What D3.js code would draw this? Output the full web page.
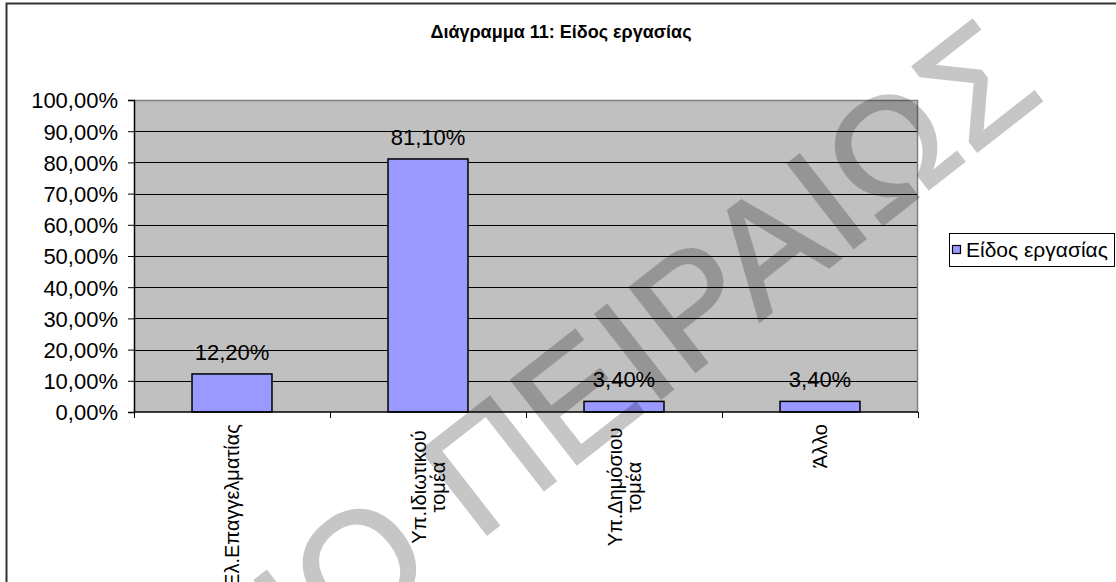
<!DOCTYPE html>
<html>
<head>
<meta charset="utf-8">
<script src="https://cdn.jsdelivr.net/npm/d3@7/dist/d3.min.js"></script>
<style>
  html, body { margin: 0; padding: 0; background: #fff; }
  svg { display: block; font-family: "Liberation Sans", Arial, Helvetica, sans-serif; }
</style>
</head>
<body>
<svg id="chart" width="1116" height="582"></svg>
<script>
// Chart data
const title = "Διάγραμμα 11: Είδος εργασίας";
const seriesName = "Είδος εργασίας";
const categories = ["Ελ.Επαγγελματίας", "Υπ.Ιδιωτικού\nτομέα", "Υπ.Δημόσιου\nτομέα", "Άλλο"];
const values = [0.122, 0.811, 0.034, 0.034];
const yTicks = [0, 0.1, 0.2, 0.3, 0.4, 0.5, 0.6, 0.7, 0.8, 0.9, 1.0];
const watermarkText = "ΠΑΝΕΠΙΣΤΗΜΙΟ ΠΕΙΡΑΙΩΣ";

const svg = d3.select("#chart");
const W = 1116, H = 582;
const plot = { left: 134, right: 918, top: 100, bottom: 412 };

const fmtPct = v => d3.format(".2f")(v * 100).replace(".", ",") + "%";

svg.append("rect").attr("width", W).attr("height", H).attr("fill", "#fff");

// outer chart frame (extends past the right and bottom edges)
svg.append("rect")
  .attr("x", 6.5).attr("y", 3.5).attr("width", 1300).attr("height", 800)
  .attr("fill", "none").attr("stroke", "#333").attr("stroke-width", 2);

const x = d3.scaleBand()
  .domain(categories)
  .range([plot.left, plot.right])
  .paddingInner(0.592)
  .paddingOuter(0.296);

const y = d3.scaleLinear().domain([0, 1]).range([plot.bottom, plot.top]);

// plot area background
svg.append("rect")
  .attr("x", plot.left).attr("y", plot.top)
  .attr("width", plot.right - plot.left).attr("height", plot.bottom - plot.top)
  .attr("fill", "#c0c0c0");

// horizontal gridlines
svg.append("g")
  .selectAll("line")
  .data(yTicks.filter(t => t > 0 && t < 1))
  .join("line")
  .attr("x1", plot.left).attr("x2", plot.right)
  .attr("y1", d => Math.round(y(d)) + 0.5).attr("y2", d => Math.round(y(d)) + 0.5)
  .attr("stroke", "#000").attr("stroke-width", 1);

// plot area border (top and right)
svg.append("path")
  .attr("d", `M${plot.left},${plot.top + 0.5}H${plot.right - 0.5}V${plot.bottom}`)
  .attr("fill", "none").attr("stroke", "#808080").attr("stroke-width", 1.5);

// bars
svg.append("g")
  .selectAll("rect")
  .data(values)
  .join("rect")
  .attr("x", (d, i) => x(categories[i]))
  .attr("y", d => y(d))
  .attr("width", x.bandwidth())
  .attr("height", d => y(0) - y(d))
  .attr("fill", "#9999ff")
  .attr("stroke", "#000").attr("stroke-width", 1.5);

// value labels
svg.append("g")
  .selectAll("text")
  .data(values)
  .join("text")
  .attr("x", (d, i) => x(categories[i]) + x.bandwidth() / 2)
  .attr("y", d => y(d) - 14)
  .attr("text-anchor", "middle")
  .attr("font-size", 22)
  .attr("fill", "#000")
  .text(d => fmtPct(d));

// y axis
const yAxis = d3.axisLeft(y)
  .tickValues(yTicks)
  .tickSize(6)
  .tickPadding(10)
  .tickFormat(fmtPct);
const gy = svg.append("g").attr("transform", `translate(${plot.left},0)`).call(yAxis);
gy.select(".domain").attr("stroke", "#000").attr("stroke-width", 1.5);
gy.selectAll(".tick line").attr("stroke", "#000");
gy.selectAll(".tick text").attr("font-size", 22).attr("fill", "#000")
  .attr("font-family", "Liberation Sans, Arial, sans-serif").attr("dy", "0.36em");

// x axis line with tick marks between categories
const step = x.step();
const boundaries = d3.range(categories.length + 1).map(i => plot.left + i * step);
svg.append("line")
  .attr("x1", plot.left).attr("x2", plot.right)
  .attr("y1", plot.bottom).attr("y2", plot.bottom)
  .attr("stroke", "#000").attr("stroke-width", 1.5);
svg.append("g")
  .selectAll("line")
  .data(boundaries)
  .join("line")
  .attr("x1", d => Math.round(d) + 0.5).attr("x2", d => Math.round(d) + 0.5)
  .attr("y1", plot.bottom).attr("y2", plot.bottom + 6)
  .attr("stroke", "#000");

// rotated category labels
const catG = svg.append("g");
categories.forEach(c => {
  const lines = c.split("\n");
  const cx = x(c) + x.bandwidth() / 2;
  const lh = 19;
  lines.forEach((ln, i) => {
    const bx = cx + 7 + (i - (lines.length - 1) / 2) * lh;
    const single = lines.length === 1;
    const by = single ? 424 : 487;
    catG.append("text")
      .attr("transform", `translate(${bx},${by}) rotate(-90)`)
      .attr("text-anchor", single ? "end" : "middle")
      .attr("font-size", 20)
      .attr("fill", "#000")
      .text(ln);
  });
});

// title
svg.append("text")
  .attr("x", 561).attr("y", 38)
  .attr("text-anchor", "middle")
  .attr("font-size", 18).attr("font-weight", "bold")
  .attr("fill", "#000")
  .text(title);

// legend
const lg = svg.append("g");
lg.append("rect").attr("x", 949.5).attr("y", 233.5).attr("width", 165).attr("height", 33)
  .attr("fill", "#fff").attr("stroke", "#000");
lg.append("rect").attr("x", 952.5).attr("y", 245.5).attr("width", 8).attr("height", 8)
  .attr("fill", "#9999ff").attr("stroke", "#000").attr("stroke-width", 1.2);
lg.append("text").attr("x", 966).attr("y", 257)
  .attr("font-size", 21).attr("fill", "#000").text(seriesName);

// watermark across the page
svg.append("g")
  .attr("opacity", 0.22)
  .append("text")
  .attr("transform", "translate(1048,96) rotate(-38)")
  .attr("text-anchor", "end")
  .attr("font-size", 155)
  .attr("letter-spacing", 2)
  .attr("font-family", "Liberation Sans, Arial, sans-serif")
  .attr("fill", "#000")
  .attr("stroke", "#000").attr("stroke-width", 2.5).attr("stroke-linejoin", "miter")
  .text(watermarkText);
</script>
</body>
</html>
